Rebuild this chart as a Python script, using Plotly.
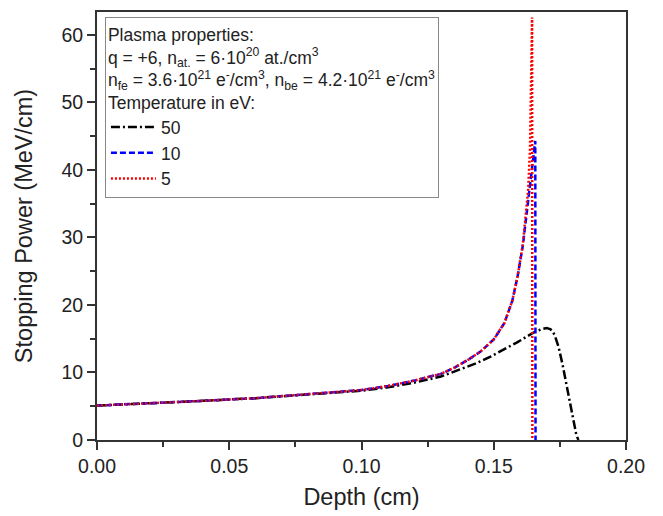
import plotly.graph_objects as go

# Depth (cm) and stopping power (MeV/cm)
depth_50 = [0.0, 0.02, 0.04, 0.06, 0.08, 0.10, 0.11, 0.12, 0.13, 0.137, 0.143, 0.149, 0.154,
            0.159, 0.165, 0.168, 0.170, 0.1715, 0.173, 0.1745, 0.176, 0.1775, 0.1795, 0.1812, 0.182]
sp_50 = [5.1, 5.4, 5.8, 6.2, 6.7, 7.3, 7.8, 8.5, 9.4, 10.4, 11.3, 12.4, 13.4,
         14.5, 15.9, 16.4, 16.6, 16.4, 15.6, 13.8, 11.2, 8.2, 4.0, 0.8, 0.0]

depth_10 = [0.0, 0.02, 0.04, 0.06, 0.08, 0.10, 0.11, 0.12, 0.13, 0.135, 0.14, 0.145, 0.15,
            0.154, 0.157, 0.159, 0.161, 0.162, 0.163, 0.1643, 0.165, 0.1657, 0.1658]
sp_10 = [5.1, 5.4, 5.8, 6.2, 6.8, 7.4, 8.0, 8.8, 9.8, 10.7, 11.8, 13.1, 14.9,
         17.3, 20.6, 24.2, 28.8, 32.0, 35.5, 39.5, 42.5, 44.3, 0.0]

depth_5 = [0.0, 0.02, 0.04, 0.06, 0.08, 0.10, 0.11, 0.12, 0.13, 0.135, 0.14, 0.145, 0.15,
           0.154, 0.157, 0.159, 0.161, 0.162, 0.163, 0.1637, 0.1641, 0.1645, 0.1646]
sp_5 = [5.1, 5.4, 5.8, 6.2, 6.8, 7.4, 8.0, 8.8, 9.8, 10.7, 11.8, 13.1, 14.9,
        17.3, 20.6, 24.2, 29.0, 32.5, 37.0, 43.0, 51.0, 62.6, 0.0]

x_ticks = [0.0, 0.05, 0.10, 0.15, 0.20]
x_tick_labels = ["0.00", "0.05", "0.10", "0.15", "0.20"]
y_ticks = [0, 10, 20, 30, 40, 50, 60]

FONT = "Arial, Liberation Sans, sans-serif"

fig = go.Figure()
fig.add_trace(go.Scatter(x=depth_50, y=sp_50, mode="lines", name="50",
                         line=dict(color="black", width=2.5, dash="9px,3px,2px,3px")))
fig.add_trace(go.Scatter(x=depth_10, y=sp_10, mode="lines", name="10",
                         line=dict(color="#0000ff", width=2.5, dash="6px,3px")))
fig.add_trace(go.Scatter(x=depth_5, y=sp_5, mode="lines", name="5",
                         line=dict(color="#ff0000", width=2.5, dash="2px,2px")))

legend_title = ("Plasma properties:<br>"
                "q = +6, n<sub>at.</sub> = 6·10<sup>20</sup> at./cm<sup>3</sup><br>"
                "n<sub>fe</sub> = 3.6·10<sup>21</sup> e<sup>-</sup>/cm<sup>3</sup>, "
                "n<sub>be</sub> = 4.2·10<sup>21</sup> e<sup>-</sup>/cm<sup>3</sup><br>"
                "Temperature in eV:")

axis_common = dict(
    showline=True, linecolor="#333333", linewidth=1.8, mirror=True,
    ticks="outside", ticklen=8, tickwidth=1.5, tickcolor="#333333",
    showgrid=False, zeroline=False,
    tickfont=dict(family=FONT, size=19.5, color="#222222"),
)

fig.update_layout(
    width=663, height=516,
    margin=dict(l=97, r=37, t=10, b=75),
    paper_bgcolor="white", plot_bgcolor="white",
    font=dict(family=FONT, color="#222222"),
    showlegend=True,
    legend=dict(
        x=0.015, y=0.988, xanchor="left", yanchor="top",
        bgcolor="white", bordercolor="#888888", borderwidth=1,
        font=dict(family=FONT, size=17.5, color="#222222"),
        title=dict(text=legend_title, font=dict(family=FONT, size=17.5, color="#222222"), side="top"),
        tracegroupgap=0, itemwidth=45,
    ),
    xaxis=dict(
        range=[0, 0.2], tickvals=x_ticks, ticktext=x_tick_labels,
        minor=dict(dtick=0.025, ticks="outside", ticklen=5, tickwidth=1.5, tickcolor="#333333"),
        title=dict(text="Depth (cm)", font=dict(family=FONT, size=23.5, color="#222222"), standoff=12),
        **axis_common,
    ),
    yaxis=dict(
        range=[0, 63.4], tickvals=y_ticks,
        minor=dict(dtick=5, ticks="outside", ticklen=5, tickwidth=1.5, tickcolor="#333333"),
        title=dict(text="Stopping Power (MeV/cm)", font=dict(family=FONT, size=23.5, color="#222222"), standoff=22),
        **axis_common,
    ),
)

fig.write_html("out.html")
